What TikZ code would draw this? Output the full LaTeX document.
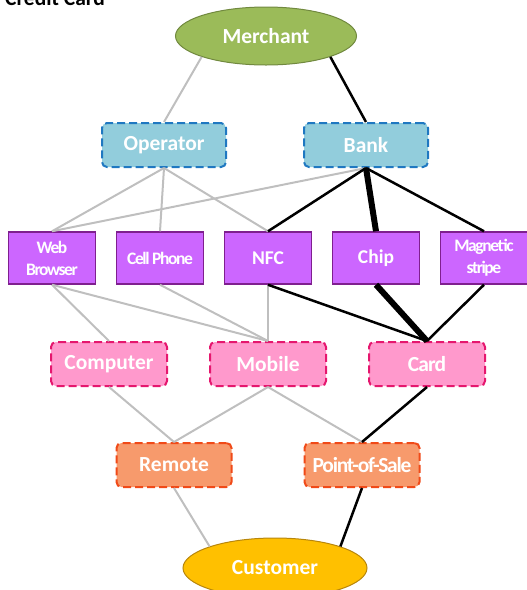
\documentclass[tikz,border=0pt]{standalone}
\usepackage{fontspec}
\setmainfont{Carlito}
\usetikzlibrary{shapes.geometric}

\definecolor{merchantfill}{HTML}{9BBB59}
\definecolor{merchantline}{HTML}{71893F}
\definecolor{customerfill}{HTML}{FFC000}
\definecolor{customerline}{HTML}{B8860B}
\definecolor{layerfill}{HTML}{92CDDC}
\definecolor{layerline}{HTML}{1F78C1}
\definecolor{techfill}{HTML}{CC66FF}
\definecolor{techline}{HTML}{7F1F8F}
\definecolor{devicefill}{HTML}{FF99CC}
\definecolor{deviceline}{HTML}{E5176E}
\definecolor{channelfill}{HTML}{F79A6C}
\definecolor{channelline}{HTML}{F04A18}
\definecolor{linegray}{HTML}{BFBFBF}

\tikzset{
  party/.style={ellipse, draw, line width=1pt, inner sep=0pt,
    text=white, font=\bfseries\fontsize{21.5}{22}\selectfont},
  dashbox/.style={rectangle, rounded corners=5pt, line width=2pt,
    dash pattern=on 8pt off 4pt, inner sep=0pt, text=white,
    minimum height=44pt, font=\bfseries\fontsize{21.5}{22}\selectfont},
  techbox/.style={rectangle, draw=techline, fill=techfill, line width=1.5pt,
    minimum width=87pt, minimum height=52pt, inner sep=0pt, align=center,
    text=white, font=\bfseries\fontsize{19.5}{22}\selectfont},
  tight/.style={font=\bfseries\fontsize{17.5}{22}\selectfont\addfontfeatures{LetterSpace=-8}},
  weak/.style={draw=linegray, line width=2pt},
  strong/.style={draw=black, line width=2.5pt},
  heavy/.style={draw=black, line width=6pt}
}

\begin{document}
\begin{tikzpicture}[x=1pt, y=-1pt]
        \useasboundingbox (0, 0) rectangle (527, 590);
        \node[anchor=base west, inner sep=0pt, font=\bfseries\fontsize{21.5}{22}\selectfont] (title) at (5, 5) {Credit Card};

        % parties
        \node[party, fill=merchantfill, draw=merchantline, minimum width=181pt, minimum height=58pt] (merchant) at (266, 36) {Merchant};
        \node[party, fill=customerfill, draw=customerline, minimum width=184pt, minimum height=60pt] (customer) at (275, 568) {Customer};

        % operator and bank
        \node[dashbox, fill=layerfill, draw=layerline, minimum width=124pt] (operator) at (164, 145) {Operator};
        \node[dashbox, fill=layerfill, draw=layerline, minimum width=124pt] (bank) at (366, 145) {Bank};

        % technologies
        \node[techbox, tight] (web) at (52, 258) {Web\\Browser};
        \node[techbox, tight] (cell) at (160, 258) {Cell Phone};
        \node[techbox] (nfc) at (268, 258) {NFC};
        \node[techbox] (chip) at (376, 258) {Chip};
        \node[techbox, tight] (magnetic) at (484, 258) {Magnetic\\stripe};

        % devices
        \node[dashbox, fill=devicefill, draw=deviceline, minimum width=116pt] (computer) at (109, 364) {Computer};
        \node[dashbox, fill=devicefill, draw=deviceline, minimum width=116pt] (mobile) at (268, 364) {Mobile};
        \node[dashbox, fill=devicefill, draw=deviceline, minimum width=116pt] (card) at (427, 364) {\addfontfeatures{LetterSpace=-4}Card};

        % channels
        \node[dashbox, fill=channelfill, draw=channelline, minimum width=115pt] (remote) at (174, 465) {Remote};
        \node[dashbox, fill=channelfill, draw=channelline, minimum width=115pt] (pos) at (362, 465) {\addfontfeatures{LetterSpace=-6}Point-of-Sale};

        \draw[weak] (merchant.south west) -- (operator.north);
        \draw[weak] (operator.south) -- (web.north);
        \draw[weak] (operator.south) -- (cell.north);
        \draw[weak] (operator.south) -- (nfc.north);
        \draw[weak] (bank.south) -- (web.north);
        \draw[weak] (web.south) -- (computer.north);
        \draw[weak] (web.south) -- (mobile.north);
        \draw[weak] (cell.south) -- (mobile.north);
        \draw[weak] (nfc.south) -- (mobile.north);
        \draw[weak] (computer.south) -- (remote.north);
        \draw[weak] (mobile.south) -- (remote.north);
        \draw[weak] (mobile.south) -- (pos.north);
        \draw[weak] (remote.south) -- (customer.north west);

        \draw[strong] (merchant.south east) -- (bank.north);
        \draw[strong] (bank.south) -- (nfc.north);
        \draw[heavy] (bank.south) -- (chip.north);
        \draw[strong] (bank.south) -- (magnetic.north);
        \draw[strong] (nfc.south) -- (card.north);
        \draw[heavy] (chip.south) -- (card.north);
        \draw[strong] (magnetic.south) -- (card.north);
        \draw[strong] (card.south) -- (pos.north);
        \draw[strong] (pos.south) -- (customer.north east);
    \end{tikzpicture}
\end{document}
